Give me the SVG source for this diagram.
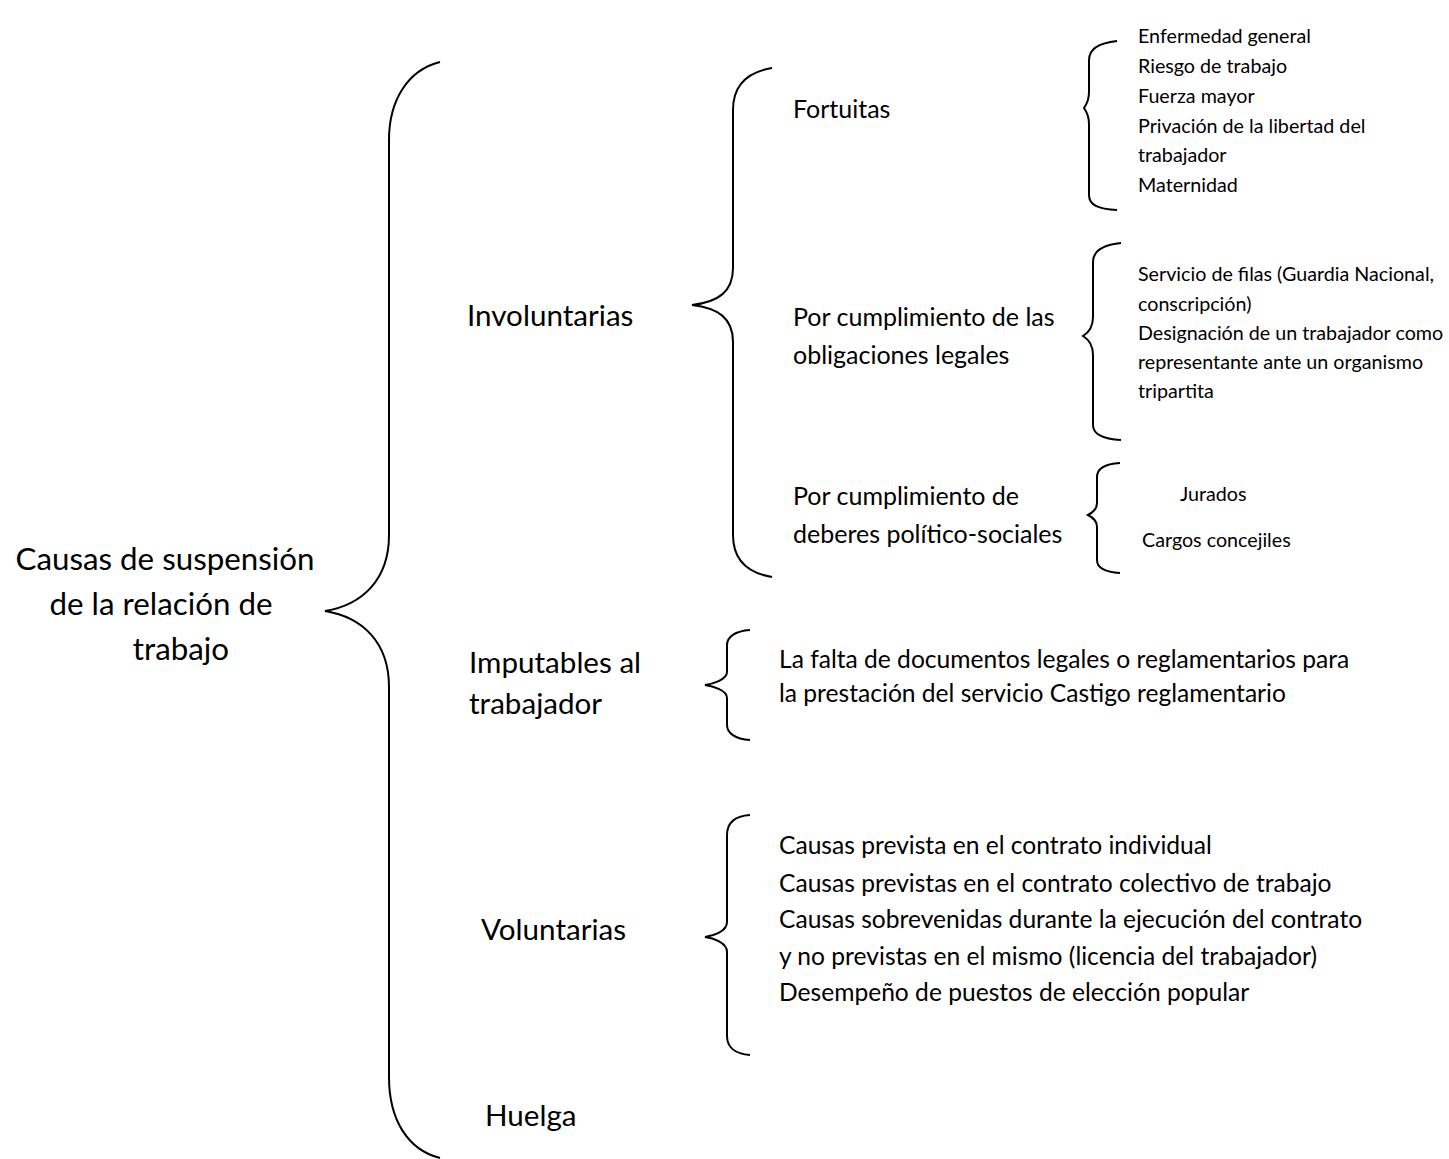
<svg xmlns="http://www.w3.org/2000/svg" width="1449" height="1159" viewBox="0 0 1449 1159">
<style>
.b{fill:none;stroke:#000;stroke-width:2}
text{font-family:Lato,"Liberation Sans",sans-serif;fill:#000}
.t1{font-size:31.3px}
.t2{font-size:29.6px}
.t3{font-size:25px}
.t4{font-size:19.7px}
.t5{font-size:24.6px}
</style>
<rect width="1449" height="1159" fill="#fff"/>
<g id="connectors">
<path class="b" d="M440,62 C408,70 389,100 389,140 L389,535 C389,580 362,605 325,611 C362,617 389,642 389,687 L389,1077 C389,1120 408,1150 440,1158"/>
<path class="b" d="M772,68 C748,72 733,85 733,110 L733,268 C733,292 718,302 692,305 C718,308 733,318 733,342 L733,535 C733,560 748,573 772,577"/>
<path class="b" d="M1117,41 C1098,43 1089,50 1089,60 L1089,92 C1089,102 1085,106 1084,108 C1085,110 1089,114 1089,124 L1089,195 C1089,205 1098,209 1117,210"/>
<path class="b" d="M1121,243 C1102,245 1093,252 1093,262 L1093,317 C1093,328 1088,333 1083,336 C1088,339 1093,344 1093,355 L1093,425 C1093,434 1102,439 1121,440"/>
<path class="b" d="M1120,463 C1104,464 1097,469 1097,477 L1097,503 C1097,510 1092,513 1088,515 C1092,517 1097,520 1097,527 L1097,560 C1097,568 1104,572 1120,573"/>
<path class="b" d="M750,630 C735,631 727,637 727,645 L727,672 C727,680 712,684 705,685 C712,686 727,690 727,698 L727,725 C727,733 735,739 750,740"/>
<path class="b" d="M750,815 C735,816 727,823 727,835 L727,922 C727,932 712,936 705,937 C712,938 727,942 727,952 L727,1036 C727,1047 735,1054 750,1055"/>
</g>
<g id="root">
<text class="t1" x="165" y="570" text-anchor="middle">Causas de suspensión</text>
<text class="t1" x="161" y="615" text-anchor="middle">de la relación de</text>
<text class="t1" x="181" y="660" text-anchor="middle">trabajo</text>
</g>
<g id="involuntarias"><text class="t2" x="467" y="326">Involuntarias</text></g>
<g id="imputables"><text class="t2" x="469" y="673">Imputables al</text><text class="t2" x="469" y="714">trabajador</text></g>
<g id="voluntarias"><text class="t2" x="481" y="940">Voluntarias</text></g>
<g id="huelga"><text class="t2" x="485" y="1126">Huelga</text></g>
<g id="fortuitas"><text class="t3" x="793" y="118">Fortuitas</text></g>
<g id="obligaciones"><text class="t3" x="793" y="326">Por cumplimiento de las</text><text class="t3" x="793" y="364">obligaciones legales</text></g>
<g id="deberes"><text class="t3" x="793" y="505">Por cumplimiento de</text><text class="t3" x="793" y="543">deberes político-sociales</text></g>
<g id="fortuitas-list">
<text class="t4" x="1138" y="43">Enfermedad general</text>
<text class="t4" x="1138" y="73">Riesgo de trabajo</text>
<text class="t4" x="1138" y="103">Fuerza mayor</text>
<text class="t4" x="1138" y="133">Privación de la libertad del</text>
<text class="t4" x="1138" y="162">trabajador</text>
<text class="t4" x="1138" y="192">Maternidad</text>
</g>
<g id="obligaciones-list">
<text class="t4" x="1138" y="281">Servicio de filas (Guardia Nacional,</text>
<text class="t4" x="1138" y="311">conscripción)</text>
<text class="t4" x="1138" y="340">Designación de un trabajador como</text>
<text class="t4" x="1138" y="369">representante ante un organismo</text>
<text class="t4" x="1138" y="398">tripartita</text>
</g>
<g id="deberes-list">
<text class="t4" x="1180" y="501">Jurados</text>
<text class="t4" x="1142" y="547">Cargos concejiles</text>
</g>
<g id="imputables-list">
<text class="t5" x="779" y="668">La falta de documentos legales o reglamentarios para</text>
<text class="t5" x="779" y="702">la prestación del servicio Castigo reglamentario</text>
</g>
<g id="voluntarias-list">
<text class="t5" x="779" y="854">Causas prevista en el contrato individual</text>
<text class="t5" x="779" y="892">Causas previstas en el contrato colectivo de trabajo</text>
<text class="t5" x="779" y="928">Causas sobrevenidas durante la ejecución del contrato</text>
<text class="t5" x="779" y="965">y no previstas en el mismo (licencia del trabajador)</text>
<text class="t5" x="779" y="1001">Desempeño de puestos de elección popular</text>
</g>
</svg>
